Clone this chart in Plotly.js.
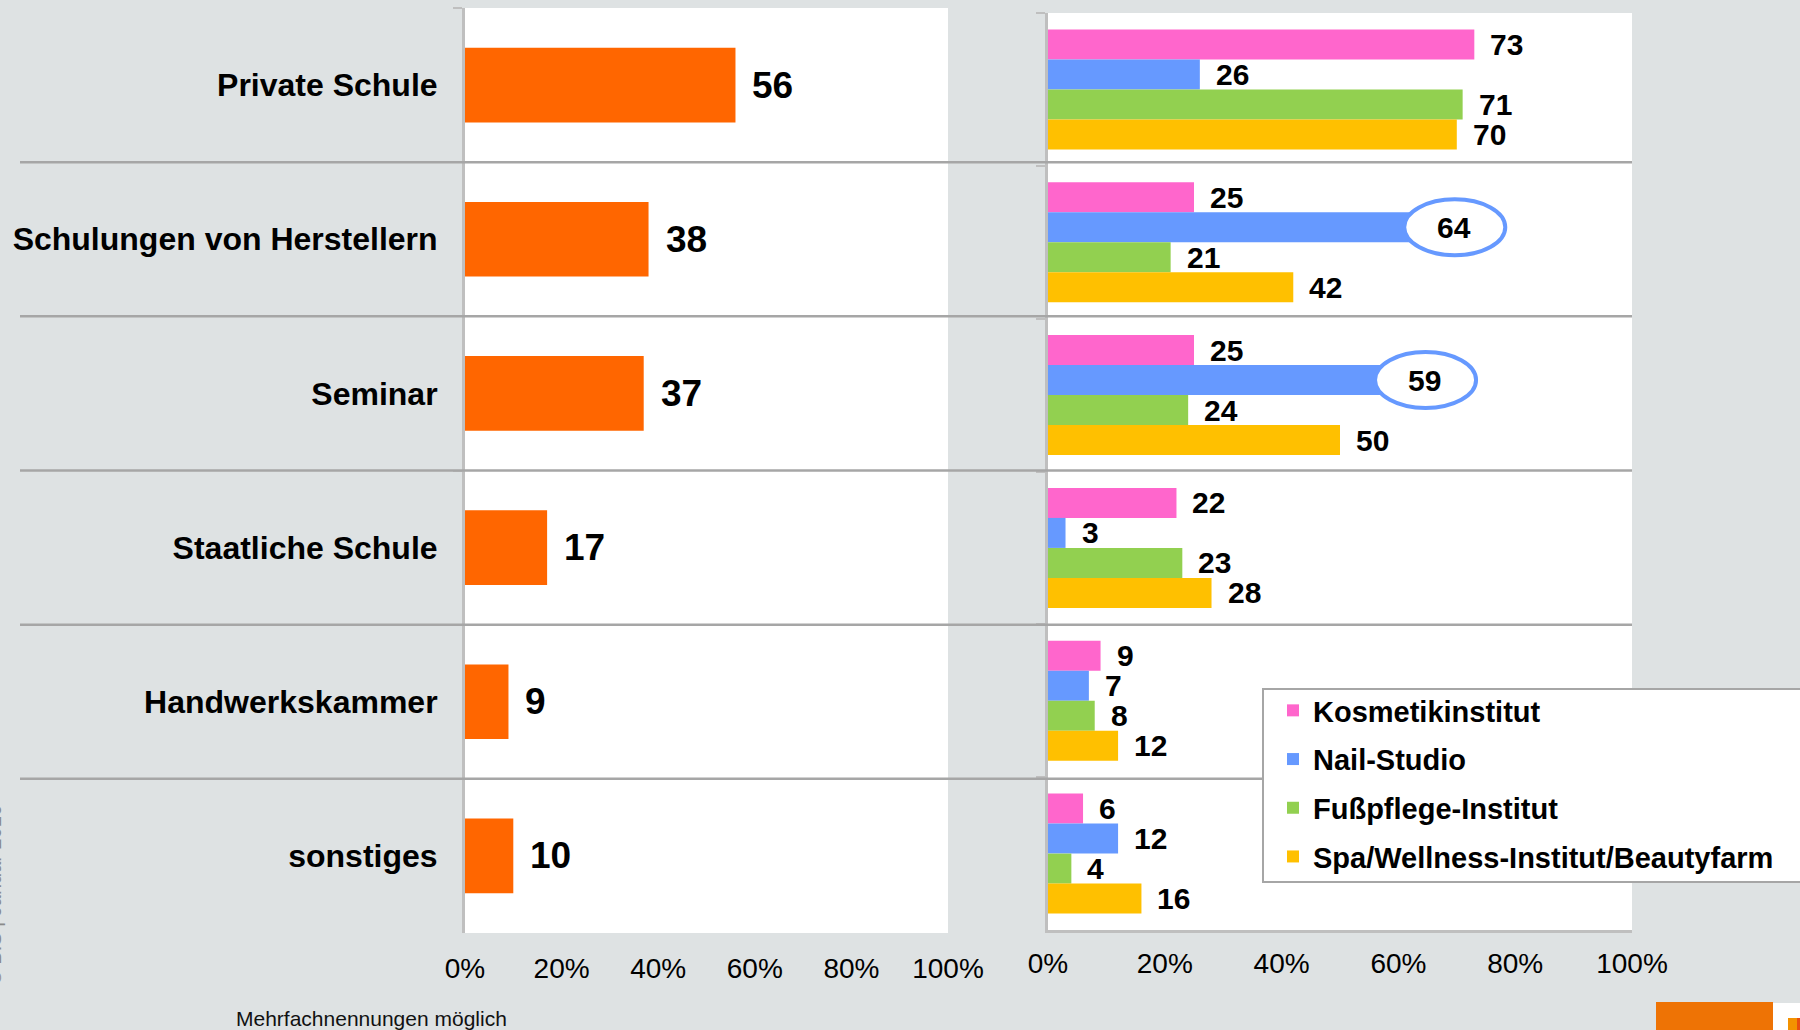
<!DOCTYPE html>
<html>
<head>
<meta charset="utf-8">
<script src="https://cdn.plot.ly/plotly-3.0.1.min.js"></script>
<style>
  html, body { margin: 0; padding: 0; background: #dee2e3; }
  #chart { width: 1800px; height: 1030px; }
</style>
</head>
<body>
<div id="chart"></div>
<script>
// ---- data ----
const categories = ["Private Schule", "Schulungen von Herstellern", "Seminar", "Staatliche Schule", "Handwerkskammer", "sonstiges"];
const totalValues = [56, 38, 37, 17, 9, 10];
const seriesNames = ["Kosmetikinstitut", "Nail-Studio", "Fußpflege-Institut", "Spa/Wellness-Institut/Beautyfarm"];
const kosmetikValues = [73, 25, 25, 22, 9, 6];
const nailValues = [26, 64, 59, 3, 7, 12];
const fussValues = [71, 21, 24, 23, 8, 4];
const spaValues = [70, 42, 50, 28, 12, 16];
const highlightSeries = "Nail-Studio";
const highlightCategories = ["Schulungen von Herstellern", "Seminar"];
const tickValues = [0, 20, 40, 60, 80, 100];
const tickLabels = ["0%", "20%", "40%", "60%", "80%", "100%"];
const footnote = "Mehrfachnennungen möglich";
const sideNote = "© BIS | Januar 2016";

// ---- styles ----
const W = 1800, H = 1030;
const FONT = "Liberation Sans, Arial, sans-serif";
const seriesValues = [kosmetikValues, nailValues, fussValues, spaValues];
const seriesColors = ["#ff66cc", "#6699ff", "#92d050", "#ffc000"];
const totalColor = "#ff6600";
const axisGray = "#bfbfbf";
const sepGray = "#a6a6a6";
const BARGAP = 0.215;

const px = v => v / W;
const py = v => 1 - v / H;

const traces = [];
traces.push({
  type: "bar", orientation: "h",
  x: totalValues, y: categories,
  xaxis: "x", yaxis: "y",
  marker: { color: totalColor },
  width: 0.484,
  showlegend: false, hoverinfo: "x+y"
});
seriesNames.forEach((name, i) => {
  traces.push({
    type: "bar", orientation: "h",
    name: name,
    x: seriesValues[i], y: categories,
    xaxis: "x2", yaxis: "y2",
    marker: { color: seriesColors[i] },
    legendgroup: "g" + i,
    hoverinfo: "x+y+name"
  });
});

const annotations = [];
const shapes = [];

// left value labels
totalValues.forEach((v, k) => {
  annotations.push({
    x: v, y: categories[k], xref: "x", yref: "y",
    text: String(v), showarrow: false, xanchor: "left", yanchor: "middle",
    xshift: 15, font: { family: FONT, size: 37, color: "#000", weight: "bold" }
  });
});

// right value labels (group offsets)
const groupW = 1 - BARGAP;
const barW = groupW / seriesNames.length;
seriesNames.forEach((name, i) => {
  const off = -groupW / 2 + barW * (i + 0.5);
  seriesValues[i].forEach((v, k) => {
    const yc = k + off;
    const isHL = name === highlightSeries && highlightCategories.includes(categories[k]);
    if (isHL) {
      shapes.push({
        type: "circle", xref: "x2", yref: "y2",
        x0: v - 3, x1: v + 14.3, y0: yc - 0.183, y1: yc + 0.183,
        fillcolor: "#ffffff", line: { color: "#6699ff", width: 4 }, layer: "above"
      });
      annotations.push({
        x: v + 5.5, y: yc, xref: "x2", yref: "y2",
        text: String(v), showarrow: false, xanchor: "center", yanchor: "middle",
        font: { family: FONT, size: 30, color: "#000", weight: "bold" }
      });
    } else {
      annotations.push({
        x: v, y: yc, xref: "x2", yref: "y2",
        text: String(v), showarrow: false, xanchor: "left", yanchor: "middle",
        xshift: 14, font: { family: FONT, size: 30, color: "#000", weight: "bold" }
      });
    }
  });
});

// row separators
for (let k = 0; k < categories.length - 1; k++) {
  shapes.push({
    type: "line", xref: "paper", yref: "y",
    x0: px(20), x1: px(1632), y0: k + 0.5, y1: k + 0.5,
    line: { color: sepGray, width: 2.5 }, layer: "above"
  });
}

// legend box (extends past the right edge like the reference)
shapes.push({
  type: "rect", xref: "paper", yref: "paper",
  x0: px(1263), x1: px(1830), y0: py(882), y1: py(689),
  fillcolor: "#ffffff", line: { color: sepGray, width: 2 }, layer: "above"
});

// corner decoration
shapes.push({ type: "rect", xref: "paper", yref: "paper", x0: px(1656), x1: px(1773), y0: 0, y1: 28 / H, fillcolor: "#ee7305", line: { width: 0 }, layer: "above" });
shapes.push({ type: "rect", xref: "paper", yref: "paper", x0: px(1773), x1: 1, y0: 0, y1: 27 / H, fillcolor: "#ffffff", line: { width: 0 }, layer: "above" });
shapes.push({ type: "rect", xref: "paper", yref: "paper", x0: px(1788), x1: px(1797), y0: 0, y1: 12 / H, fillcolor: "#f39200", line: { width: 0 }, layer: "above" });
shapes.push({ type: "rect", xref: "paper", yref: "paper", x0: px(1797), x1: 1, y0: 0, y1: 12 / H, fillcolor: "#e84e0f", line: { width: 0 }, layer: "above" });

annotations.push({
  xref: "paper", yref: "paper", x: px(234), y: py(1018),
  xanchor: "left", yanchor: "middle", showarrow: false,
  text: footnote, font: { family: FONT, size: 21, color: "#111" }
});
annotations.push({
  xref: "paper", yref: "paper", x: 0, y: py(895),
  xanchor: "right", yanchor: "middle", xshift: 7, showarrow: false, textangle: -90,
  text: sideNote, font: { family: FONT, size: 20, color: "#8a8a8a" }
});

const xAxisBase = {
  range: [0, 100], tickmode: "array", tickvals: tickValues, ticktext: tickLabels,
  showgrid: false, zeroline: false, ticks: "",
  tickfont: { family: FONT, size: 28, color: "#000" }, fixedrange: true
};

const layout = {
  width: W, height: H,
  margin: { l: 0, r: 0, t: 0, b: 0 },
  paper_bgcolor: "#dee2e3",
  plot_bgcolor: "#ffffff",
  barmode: "group", bargap: BARGAP, bargroupgap: 0,
  font: { family: FONT },
  xaxis: Object.assign({}, xAxisBase, {
    domain: [px(465), px(948)], anchor: "y", ticklabelstandoff: 16, showline: false
  }),
  xaxis2: Object.assign({}, xAxisBase, {
    domain: [px(1048), px(1632)], anchor: "y2", ticklabelstandoff: 6,
    showline: true, linecolor: axisGray, linewidth: 3
  }),
  yaxis: {
    domain: [py(933), py(8)], anchor: "x",
    type: "category", categoryorder: "array", categoryarray: categories,
    range: [categories.length - 0.5, -0.5],
    showgrid: false, zeroline: false,
    showline: true, linecolor: axisGray, linewidth: 3,
    ticks: "outside", tickson: "boundaries", ticklen: 9, tickwidth: 2, tickcolor: axisGray,
    ticklabelstandoff: 18,
    tickfont: { family: FONT, size: 32, color: "#000", weight: "bold" }, fixedrange: true
  },
  yaxis2: {
    domain: [py(930), py(13)], anchor: "x2",
    type: "category", categoryorder: "array", categoryarray: categories,
    range: [categories.length - 0.5, -0.5],
    showgrid: false, zeroline: false, showticklabels: false,
    showline: true, linecolor: axisGray, linewidth: 3,
    ticks: "outside", tickson: "boundaries", ticklen: 9, tickwidth: 2, tickcolor: axisGray,
    fixedrange: true
  },
  legend: {
    x: px(1273), y: py(685), xanchor: "left", yanchor: "top",
    bgcolor: "rgba(0,0,0,0)", borderwidth: 0,
    font: { family: FONT, size: 29, color: "#000", weight: "bold" },
    traceorder: "grouped", tracegroupgap: 8, itemwidth: 30
  },
  showlegend: true,
  shapes: shapes,
  annotations: annotations
};

Plotly.newPlot("chart", traces, layout, { displayModeBar: false, staticPlot: true });
</script>
</body>
</html>
